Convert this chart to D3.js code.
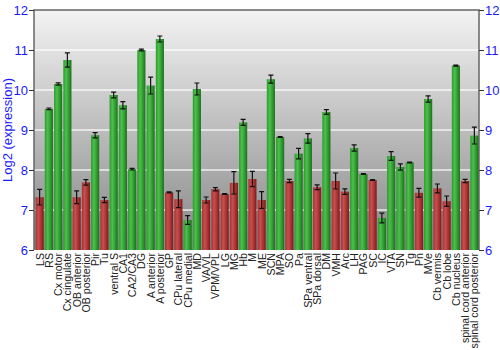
<!DOCTYPE html>
<html>
<head>
<meta charset="utf-8">
<script src="https://d3js.org/d3.v7.min.js"></script>
<style>
  body { margin: 0; background: #fff; }
  svg { display: block; font-family: "Liberation Sans", Arial, sans-serif; }
</style>
</head>
<body>
<svg id="chart" width="500" height="350"></svg>
<script>
// regions
const regions = ["LS", "RS", "Cx motor", "Cx cingulate", "OB anterior", "OB posterior", "Pir", "Tu",
  "ventral S", "CA1", "CA2/CA3", "DG", "A anterior", "A posterior", "GP", "CPu lateral", "CPu medial",
  "MD", "VA/VL", "VPM/VPL", "LG", "MG", "Hb", "M", "ME", "SCN", "MPA", "SO", "Pa", "SPa ventral",
  "SPa dorsal", "DM", "VMH", "Arc", "LH", "PAG", "SC", "IC", "VTA", "SN", "Tg", "Pn", "MVe",
  "Cb vermis", "Cb lobe", "Cb nucleus", "spinal cord anterior", "spinal cord posterior"];

// log2 expression
const expression = [7.32, 9.53, 10.15, 10.75, 7.32, 7.69, 8.87, 7.25,
  9.875, 9.62, 8.02, 11.0, 10.11, 11.275, 7.44, 7.27, 6.75,
  10.025, 7.25, 7.52, 7.4, 7.68, 9.19, 7.775, 7.25, 10.27, 8.825, 7.725, 8.41, 8.79,
  7.57, 9.45, 7.725, 7.46, 8.55, 7.9, 7.75, 6.8, 8.35, 8.075, 8.19, 7.43, 9.775,
  7.54, 7.22, 10.61, 7.725, 8.86];

// standard error
const stderr = [0.195, 0.02, 0.03, 0.18, 0.16, 0.07, 0.065, 0.065,
  0.07, 0.09, 0.02, 0.02, 0.21, 0.075, 0.015, 0.21, 0.11,
  0.15, 0.075, 0.04, 0.01, 0.28, 0.075, 0.19, 0.21, 0.1, 0.01, 0.04, 0.13, 0.12,
  0.06, 0.06, 0.2, 0.07, 0.08, 0.01, 0.01, 0.12, 0.11, 0.08, 0.01, 0.11, 0.08,
  0.11, 0.13, 0.015, 0.04, 0.21];

// detection call: P = present (green), A = absent (red)
const calls = ["A", "P", "P", "P", "A", "A", "P", "A",
  "P", "P", "P", "P", "P", "P", "A", "A", "P",
  "P", "A", "A", "A", "A", "P", "A", "A", "P", "P", "A", "P", "P",
  "A", "P", "A", "A", "P", "P", "A", "P", "P", "P", "P", "A", "P",
  "A", "A", "P", "A", "P"];

const yTicks = [6, 7, 8, 9, 10, 11, 12];

const svg = d3.select("#chart");
const pLeft = 34, pRight = 479, pTop = 10, pBottom = 250;

const x = d3.scaleBand().domain(regions).range([pLeft + 1, pRight]).paddingInner(0.12).paddingOuter(0.06);
const y = d3.scaleLinear().domain([6, 12]).range([pBottom, pTop]);

const defs = svg.append("defs");
const bg = defs.append("linearGradient").attr("id", "bg").attr("x1", 0).attr("y1", 0).attr("x2", 0).attr("y2", 1);
bg.append("stop").attr("offset", "0%").attr("stop-color", "#f3f3f3");
bg.append("stop").attr("offset", "100%").attr("stop-color", "#868686");

function barGrad(id, dark, mid, light) {
  const g = defs.append("linearGradient").attr("id", id).attr("x1", 0).attr("y1", 0).attr("x2", 1).attr("y2", 0);
  g.append("stop").attr("offset", "0%").attr("stop-color", mid);
  g.append("stop").attr("offset", "35%").attr("stop-color", light);
  g.append("stop").attr("offset", "70%").attr("stop-color", mid);
  g.append("stop").attr("offset", "100%").attr("stop-color", dark);
}
barGrad("gP", "#1d6f1d", "#2f9a2f", "#4cc04c");
barGrad("gA", "#7a1a1a", "#a83232", "#c65050");

// background
svg.append("rect").attr("x", pLeft).attr("y", pTop).attr("width", pRight - pLeft).attr("height", pBottom - pTop)
  .attr("fill", "url(#bg)");

// grid
svg.append("g").selectAll("line").data(yTicks.slice(1, -1)).join("line")
  .attr("x1", pLeft).attr("x2", pRight).attr("y1", d => y(d)).attr("y2", d => y(d))
  .attr("stroke", "#ffffff").attr("stroke-opacity", 0.8).attr("stroke-width", 1.5);

// frame
svg.append("path").attr("d", `M${pLeft},${pBottom}V${pTop}H${pRight}V${pBottom}`)
  .attr("fill", "none").attr("stroke", "#666").attr("stroke-width", 1.5);

// bars
const bars = svg.append("g").selectAll("g").data(regions).join("g");
bars.append("rect")
  .attr("x", d => x(d))
  .attr("width", x.bandwidth())
  .attr("y", (d, i) => y(expression[i]))
  .attr("height", (d, i) => y(6) - y(expression[i]))
  .attr("fill", (d, i) => calls[i] === "P" ? "url(#gP)" : "url(#gA)");

// error bars
const cx = d => x(d) + x.bandwidth() / 2;
bars.append("path")
  .attr("d", (d, i) => {
    const y1 = y(expression[i] + stderr[i]), y2 = y(expression[i] - stderr[i]);
    return `M${cx(d)},${y1}V${y2}M${cx(d) - 2.5},${y1}h5M${cx(d) - 2.5},${y2}h5`;
  })
  .attr("stroke", "#111").attr("stroke-width", 1.2).attr("fill", "none");

// axes
const axL = svg.append("g").attr("transform", `translate(${pLeft},0)`)
  .call(d3.axisLeft(y).tickValues(yTicks).tickSize(5).tickFormat(d3.format("d")));
const axR = svg.append("g").attr("transform", `translate(${pRight},0)`)
  .call(d3.axisRight(y).tickValues(yTicks).tickSize(5).tickFormat(d3.format("d")));
[axL, axR].forEach(a => {
  a.select(".domain").remove();
  a.selectAll(".tick line").attr("stroke", "#333");
  a.selectAll("text").attr("fill", "#1a1aff").attr("font-size", 13)
    .attr("font-family", "'Liberation Sans', Arial, sans-serif");
});
axL.selectAll("text").attr("x", -6);
axR.selectAll("text").attr("x", 6);

// category labels
svg.append("g").selectAll("text").data(regions).join("text")
  .attr("transform", d => `translate(${cx(d) + 4},${pBottom + 3}) rotate(-90)`)
  .attr("text-anchor", "end")
  .attr("font-size", 10.6)
  .attr("fill", "#222")
  .text(d => d);

// y title
svg.append("text")
  .attr("transform", `translate(12,${(pTop + pBottom) / 2}) rotate(-90)`)
  .attr("text-anchor", "middle")
  .attr("font-size", 13)
  .attr("fill", "#1a1aff")
  .text("Log2 (expression)");
</script>
</body>
</html>
